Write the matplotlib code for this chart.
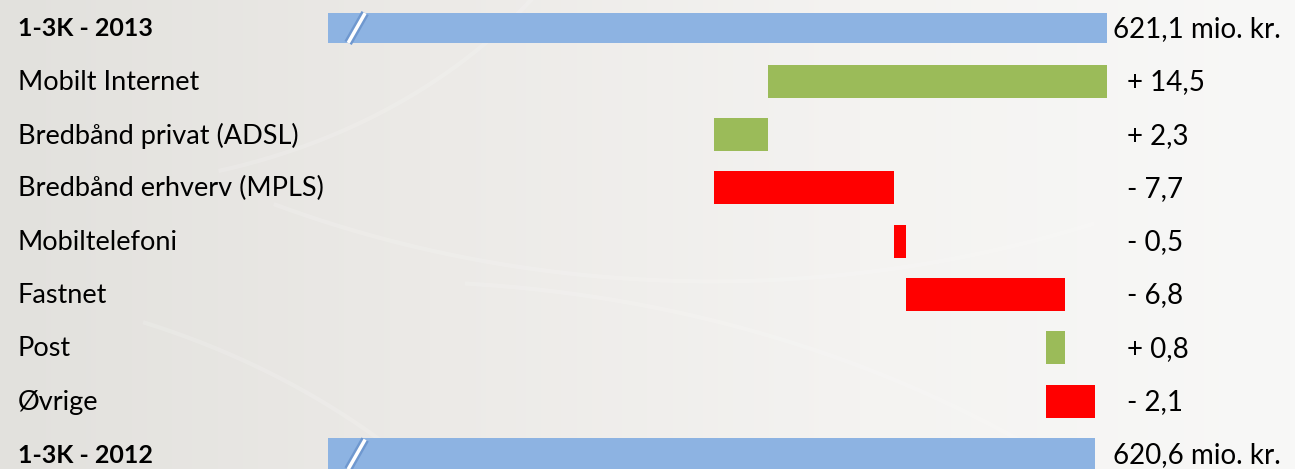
import numpy as np
import matplotlib
matplotlib.use("Agg")
import matplotlib.pyplot as plt
from matplotlib.colors import LinearSegmentedColormap

# Data (top to bottom)
labels = ["1-3K - 2013", "Mobilt Internet", "Bredbånd privat (ADSL)", "Bredbånd erhverv (MPLS)",
          "Mobiltelefoni", "Fastnet", "Post", "Øvrige", "1-3K - 2012"]
total_2013 = 621.1
total_2012 = 620.6
changes = [14.5, 2.3, -7.7, -0.5, -6.8, 0.8, -2.1]   # Mobilt Internet .. Øvrige
value_texts = ["621,1 mio. kr.", "+ 14,5", "+ 2,3", "- 7,7", "- 0,5", "- 6,8", "+ 0,8", "- 2,1", "620,6 mio. kr."]
axis_start = 587.8  # broken axis base

W, H = 1295, 469
fig = plt.figure(figsize=(W/100, H/100), dpi=100)

# background gradient
bg = fig.add_axes([0, 0, 1, 1], zorder=0)
grad = np.linspace(0, 1, 256)[None, :]
cmap = LinearSegmentedColormap.from_list("bg", ["#e2e1dd", "#eceae7", "#f4f3f1", "#f8f8f7"])
bg.imshow(grad, aspect="auto", cmap=cmap, extent=[0, 1, 0, 1])
# faint decorative swirls
t = np.linspace(0, 1, 200)
for (cx, cy, r, a0, a1) in [(0.05, 1.6, 1.0, -1.3, -0.2), (-0.1, -0.9, 1.3, 0.2, 1.2), (0.55, 2.2, 1.8, -2.0, -1.2),
                            (0.3, -1.5, 1.9, 0.6, 1.5)]:
    ang = a0 + (a1 - a0) * t
    bg.plot(cx + r * np.cos(ang) * 0.45, cy + r * np.sin(ang), color="white", alpha=0.15, lw=3)
bg.set_xlim(0, 1)
bg.set_ylim(0, 1)
bg.set_axis_off()

ax = fig.add_axes([0, 0, 1, 1], zorder=1)
ax.patch.set_alpha(0)
k = 23.38
x_left = total_2012 - 1095 / k
x_right = total_2012 + (W - 1095) / k
pitch = 53.3
ax.set_xlim(x_left, x_right)
ax.set_ylim((H - 28) / pitch, -28 / pitch)
ax.set_axis_off()

blue = "#8db3e2"
green = "#9bbb59"
red = "#ff0000"
h = 0.62

# running levels from bottom (2012) upward
n = len(changes)
ends = [0.0] * n
level = total_2012
for i in range(n - 1, -1, -1):
    start = level
    level = level + changes[i]
    ends[i] = (start, level)

# totals
for row, val in [(0, total_2013), (len(labels) - 1, total_2012)]:
    ax.barh(row, val - axis_start, left=axis_start, height=h if row else 0.57, color=blue, zorder=2)
    # break mark
    x0 = axis_start + 20 / k
    ax.plot([x0, x0 + 17 / k], [row + 0.28, row - 0.28], color="#6f98cf", lw=6, zorder=3, solid_capstyle="butt")
    ax.plot([x0, x0 + 17 / k], [row + 0.28, row - 0.28], color="white", lw=2.5, zorder=4, solid_capstyle="butt")

for i, c in enumerate(changes):
    a, b = ends[i]
    lo, hi = min(a, b), max(a, b)
    ax.barh(i + 1, hi - lo, left=lo, height=h, color=green if c > 0 else red, zorder=2)

font = "Lato"
for i, lab in enumerate(labels):
    bold = i in (0, len(labels) - 1)
    y = 1 - (29 + i * pitch) / H
    ax.text(18 / W, y, lab, transform=ax.transAxes, ha="left", va="center",
            fontsize=18 if bold else 19.5, fontweight="bold" if bold else "normal", family=font, color="black")
    xx = 1113 if bold else 1127
    ax.text(xx / W, y, value_texts[i], transform=ax.transAxes, ha="left", va="center",
            fontsize=20, family=font, color="black")

fig.savefig("out.png", dpi=100)
